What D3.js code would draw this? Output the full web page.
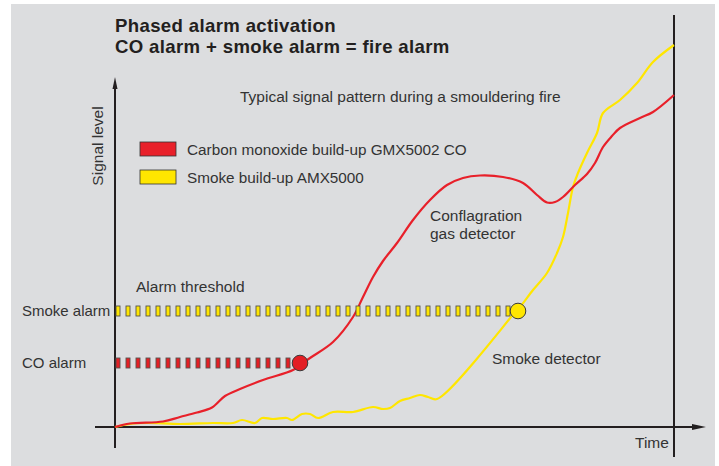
<!DOCTYPE html>
<html>
<head>
<meta charset="utf-8">
<script src="https://cdn.jsdelivr.net/npm/d3@7"></script>
<style>
  html, body { margin: 0; padding: 0; background: #ffffff; }
  svg { display: block; }
  text { font-family: "Liberation Sans", Arial, sans-serif; fill: #333333; }
</style>
</head>
<body>
<div id="chart"></div>
<script>
// ---------- data (arbitrary units: time / signal level) ----------
const coSignal = [
  [0,0],[15,3.5],[48,5.5],[65,10],[82,14.5],[97,19.5],[110,31],[125,38],[148,47],
  [178,57],[185,62],[195,69],[218,85],[238,110],[248,130],[258,150],[268,166],
  [282,184],[298,207],[315,227],[332,242],[348,249],[365,251.5],[388,250],[408,244],
  [422,232],[432,224.5],[440,225],[448,230],[460,242],[472,253],[480,264],[488,280],
  [497,291],[505,299],[525,309],[538,315],[559,332]
];
const smokeSignal = [
  [0,0],[15,3],[32,4],[65,3],[98,4],[118,4],[127,7],[140,4],[147,9],[158,8],[172,9],
  [177,7],[187,13],[195,13],[203,9],[218,15],[238,15],[258,20],[268,18],[275,19],
  [285,26],[295,29],[305,32],[313,30],[322,28],[402,117],[405,120],[418,137],[432,154],
  [442,174],[448,190],[453,214],[458,240],[463,254],[472,274],[482,294],[488,314],
  [505,327],[522,344],[538,365],[559,382]
];
const thresholds = [
  { name: "Smoke alarm", level: 116, trigger: 403, color: "#ffe600" },
  { name: "CO alarm",    level: 64,  trigger: 185, color: "#e31e24" }
];
const legendItems = [
  { label: "Carbon monoxide build-up GMX5002 CO", color: "#e8202a" },
  { label: "Smoke build-up AMX5000", color: "#ffe600" }
];
const titleLines = ["Phased alarm activation", "CO alarm + smoke alarm = fire alarm"];
const subtitle = "Typical signal pattern during a smouldering fire";
const yAxisLabel = "Signal level";
const xAxisLabel = "Time";
const annotations = [
  { lines: ["Conflagration", "gas detector"], x: 315, y: 206 },
  { lines: ["Smoke detector"], x: 377, y: 63 },
  { lines: ["Alarm threshold"], x: 21, y: 135 }
];

// ---------- layout ----------
const W = 719, H = 466;
const FS = "15.5px";
const svg = d3.select("#chart").append("svg").attr("width", W).attr("height", H);

svg.append("rect").attr("x", 11).attr("y", 4).attr("width", 704).attr("height", 462)
  .attr("fill", "#dcdddf");

const x = d3.scaleLinear().domain([0, 559]).range([115, 674]);
const y = d3.scaleLinear().domain([0, 350]).range([427, 77]);

const ink = "#231f20";

// axes
const [x0, x1] = x.range();
const [y0, y1] = y.range();
svg.append("line").attr("x1", x0).attr("x2", x0).attr("y1", y0 + 21).attr("y2", y1 + 8)
  .attr("stroke", ink).attr("stroke-width", 2);
svg.append("path")
  .attr("d", `M${x0},${y1} L${x0 - 2.5},${y1 + 12} L${x0 + 2.5},${y1 + 12} Z`)
  .attr("fill", ink);
svg.append("line").attr("x1", x0 - 20).attr("x2", 696).attr("y1", y0).attr("y2", y0)
  .attr("stroke", ink).attr("stroke-width", 2);
svg.append("path")
  .attr("d", `M706,${y0} L692,${y0 - 3} L692,${y0 + 3} Z`)
  .attr("fill", ink);
svg.append("line").attr("x1", x1).attr("x2", x1).attr("y1", 15).attr("y2", 457)
  .attr("stroke", ink).attr("stroke-width", 2);

// title (separate text elements per line)
svg.append("g").selectAll("text").data(titleLines).join("text")
  .attr("x", 115).attr("y", (d, i) => 31.5 + i * 21)
  .style("font-weight", "bold").style("font-size", "18.6px").style("letter-spacing", "0.35px")
  .style("fill", "#231f20")
  .text(d => d);

svg.append("text").attr("x", 240).attr("y", 102).style("font-size", FS).text(subtitle);

// axis labels
svg.append("text").attr("transform", "translate(103,146) rotate(-90)")
  .attr("text-anchor", "middle").style("font-size", FS).text(yAxisLabel);
svg.append("text").attr("x", 635).attr("y", 448).style("font-size", FS).text(xAxisLabel);

// legend
const lg = svg.append("g").selectAll("g").data(legendItems).join("g")
  .attr("transform", (d, i) => `translate(140,${142 + i * 28})`);
lg.append("rect").attr("width", 36).attr("height", 14).attr("fill", d => d.color)
  .attr("stroke", "#333").attr("stroke-width", 0.8);
lg.append("text").attr("x", 47).attr("y", 13).style("font-size", "15.3px").text(d => d.label);

// annotations (one text element per line)
annotations.forEach(a => {
  svg.append("g").selectAll("text").data(a.lines).join("text")
    .attr("x", x(a.x)).attr("y", (d, i) => y(a.y) + i * 17.5)
    .style("font-size", FS).text(d => d);
});

// threshold labels
thresholds.forEach(t => {
  svg.append("text").attr("x", 22).attr("y", y(t.level) + 5).style("font-size", "15px").text(t.name);
});

// curves
const line = d3.line().x(d => x(d[0])).y(d => y(d[1])).curve(d3.curveCatmullRom.alpha(0.5));
svg.append("path").datum(smokeSignal).attr("d", line).attr("fill", "none")
  .attr("stroke", "#ffe600").attr("stroke-width", 2.2);
svg.append("path").datum(coSignal).attr("d", line).attr("fill", "none")
  .attr("stroke", "#e8202a").attr("stroke-width", 2.2);

// threshold markers + trigger points
thresholds.forEach(t => {
  const xs = d3.range(3, t.trigger - 9, 10);
  svg.append("g").selectAll("rect").data(xs).join("rect")
    .attr("x", d => x(d) - 2).attr("y", y(t.level) - 5)
    .attr("width", 4).attr("height", 10)
    .attr("fill", t.color).attr("stroke", "#55534f").attr("stroke-width", 0.9);
  svg.append("circle").attr("cx", x(t.trigger)).attr("cy", y(t.level)).attr("r", 7.8)
    .attr("fill", t.color).attr("stroke", "#3a3a3a").attr("stroke-width", 1);
});
</script>
</body>
</html>
